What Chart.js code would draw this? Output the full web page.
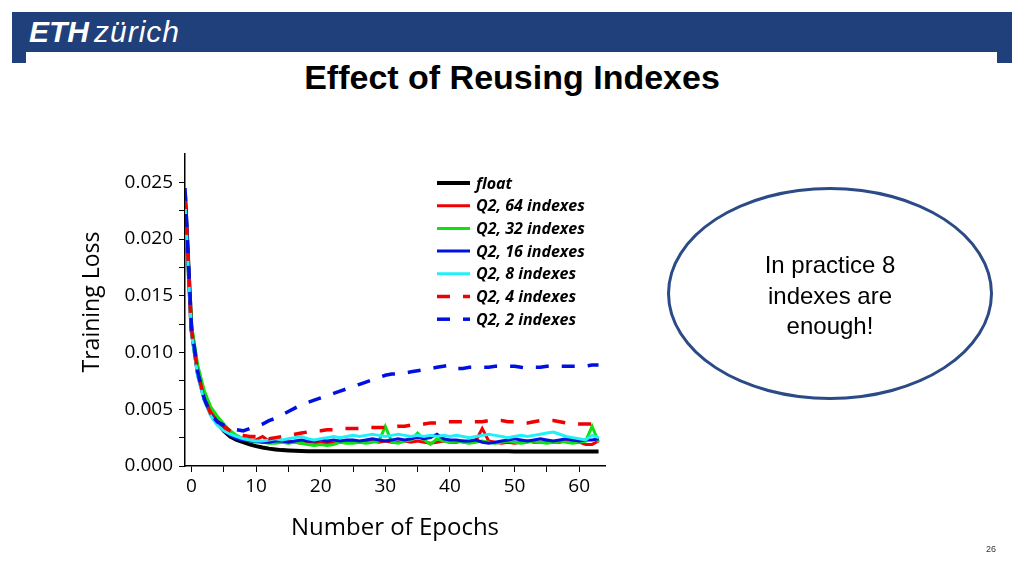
<!DOCTYPE html>
<html>
<head>
<meta charset="utf-8">
<script src="https://cdn.jsdelivr.net/npm/chart.js@4.4.1/dist/chart.umd.min.js"></script>
<style>
  html, body { margin: 0; padding: 0; background: #fff; }
  #page { position: relative; width: 1024px; height: 576px; overflow: hidden; background: #fff; }
  .bar { position: absolute; background: #1f407a; }
  #logo { position: absolute; left: 29px; top: 13px; height: 38px; color: #fff; font-family: "Liberation Sans", Arial, sans-serif; line-height: 38px; white-space: nowrap; }
  #logo .eth { font-weight: bold; font-style: italic; font-size: 30px; letter-spacing: 0px; }
  #logo .zh { font-style: italic; font-weight: normal; font-size: 30px; letter-spacing: 1px; margin-left: 5px; }
  #title { position: absolute; left: 0; width: 1024px; top: 57px; text-align: center; font-family: "Liberation Sans", Arial, sans-serif; font-weight: bold; font-size: 34px; line-height: 40px; color: #000; }
  #chart { position: absolute; left: 0; top: 0; }
  #bubble { position: absolute; left: 667px; top: 187px; width: 320px; height: 207px; border: 3px solid #2b4a86; border-radius: 50%; }
  #bubbleText { position: absolute; left: 667px; top: 250px; width: 326px; text-align: center; font-family: "Liberation Sans", Arial, sans-serif; font-size: 24px; line-height: 30.5px; color: #000; }
  #pnum { position: absolute; left: 980px; top: 544px; width: 22px; text-align: center; font-family: "Liberation Sans", Arial, sans-serif; font-size: 9px; color: #333; }
</style>
</head>
<body>
<div id="page">
  <div class="bar" style="left:12px;top:12px;width:1000px;height:40px;"></div>
  <div class="bar" style="left:12px;top:52px;width:14px;height:11px;"></div>
  <div class="bar" style="left:997px;top:52px;width:15px;height:11px;"></div>
  <div id="logo"><span class="eth">ETH</span><span class="zh">zürich</span></div>
  <div id="title">Effect of Reusing Indexes</div>
  <canvas id="chart" width="1024" height="576"></canvas>
  <div id="bubble"></div>
  <div id="bubbleText">In practice 8<br>indexes are<br>enough!</div>
  <div id="pnum">26</div>
</div>
<script>
// ---------------- data ----------------
const epochs = [-1,0,1,2,3,4,5,6,7,8,9,10,11,12,13,14,15,16,17,18,19,20,21,22,23,24,25,26,27,28,29,30,31,32,33,34,35,36,37,38,39,40,41,42,43,44,45,46,47,48,49,50,51,52,53,54,55,56,57,58,59,60,61,62,63];

const seriesNames = ["float", "Q2, 64 indexes", "Q2, 32 indexes", "Q2, 16 indexes", "Q2, 8 indexes", "Q2, 4 indexes", "Q2, 2 indexes"];

const yAxisTitle = "Training Loss";
const xAxisTitle = "Number of Epochs";

const lossFloat = [0.0240,0.0120,0.0081,0.0060,0.0047,0.0038,0.0031,0.0026,0.0023,0.0021,0.0019,0.00175,0.00163,0.00153,0.00146,0.0014,0.00137,0.00134,0.00132,0.00131,0.0013,0.0013,0.0013,0.0013,0.0013,0.0013,0.0013,0.0013,0.0013,0.0013,0.0013,0.0013,0.0013,0.0013,0.0013,0.0013,0.0013,0.0013,0.0013,0.0013,0.0013,0.0013,0.0013,0.0013,0.0013,0.0013,0.0013,0.0013,0.0013,0.0013,0.0013,0.00128,0.00128,0.00128,0.00128,0.00128,0.00128,0.00127,0.00127,0.00127,0.00127,0.00127,0.00127,0.00127,0.00127];

const lossQ64 = [0.0236,0.0121,0.0083,0.0061,0.0048,0.0040,0.0034,0.0029,0.0026,0.0024,0.0023,0.0023,0.0026,0.0022,0.0021,0.0021,0.0022,0.0021,0.0020,0.0021,0.0021,0.0020,0.0021,0.0020,0.0021,0.0021,0.0022,0.0021,0.0021,0.0022,0.0021,0.0022,0.0021,0.0021,0.0022,0.0021,0.0022,0.0021,0.0020,0.0021,0.0022,0.0021,0.0021,0.0022,0.0021,0.0022,0.0033,0.0022,0.0021,0.0020,0.0021,0.0020,0.0021,0.0022,0.0021,0.0021,0.0022,0.0021,0.0021,0.0022,0.0021,0.0021,0.0019,0.0019,0.0022];

const lossQ32 = [0.0233,0.0125,0.0088,0.0066,0.0052,0.0044,0.0037,0.0031,0.0027,0.0024,0.0022,0.0021,0.0021,0.0020,0.0020,0.0021,0.0020,0.0021,0.0020,0.0019,0.0018,0.0019,0.0018,0.0019,0.0021,0.0020,0.0020,0.0021,0.0020,0.0021,0.0022,0.0035,0.0021,0.0020,0.0022,0.0023,0.0029,0.0023,0.0019,0.0024,0.0022,0.0021,0.0022,0.0021,0.0020,0.0021,0.0022,0.0021,0.0020,0.0021,0.0022,0.0021,0.0020,0.0021,0.0022,0.0021,0.0020,0.0021,0.0022,0.0021,0.0020,0.0021,0.0022,0.0035,0.0021];

const lossQ16 = [0.0240,0.0119,0.0080,0.0058,0.0045,0.0037,0.0031,0.0027,0.0024,0.0023,0.0022,0.0022,0.0021,0.0021,0.0022,0.0022,0.0021,0.0022,0.0023,0.0022,0.0022,0.0023,0.0022,0.0023,0.0022,0.0023,0.0023,0.0022,0.0023,0.0024,0.0023,0.0022,0.0023,0.0024,0.0023,0.0024,0.0025,0.0024,0.0025,0.0028,0.0024,0.0023,0.0023,0.0022,0.0022,0.0023,0.0021,0.0020,0.0021,0.0022,0.0023,0.0024,0.0023,0.0022,0.0023,0.0024,0.0023,0.0022,0.0023,0.0024,0.0023,0.0022,0.0023,0.0023,0.0024];

const lossQ8 = [0.0233,0.0117,0.0078,0.0057,0.0044,0.0036,0.0031,0.0028,0.0026,0.0024,0.0023,0.0022,0.0022,0.0023,0.0024,0.0023,0.0024,0.0025,0.0026,0.0024,0.0023,0.0024,0.0025,0.0026,0.0025,0.0026,0.0027,0.0026,0.0027,0.0028,0.0027,0.0026,0.0027,0.0028,0.0027,0.0026,0.0027,0.0026,0.0027,0.0026,0.0027,0.0026,0.0027,0.0026,0.0025,0.0026,0.0027,0.0028,0.0027,0.0026,0.0025,0.0026,0.0027,0.0026,0.0027,0.0028,0.0029,0.0030,0.0028,0.0026,0.0025,0.0024,0.0023,0.0027,0.0025];

const lossQ4 = [0.0238,0.0120,0.0082,0.0059,0.0046,0.0039,0.0035,0.0031,0.0028,0.0027,0.0026,0.0026,0.0025,0.0024,0.0025,0.0026,0.0027,0.0028,0.0029,0.0030,0.0031,0.0031,0.0032,0.0032,0.0033,0.0033,0.0033,0.0033,0.0034,0.0034,0.0034,0.0034,0.0034,0.0035,0.0035,0.0036,0.0036,0.0037,0.0038,0.0038,0.0039,0.0039,0.0039,0.0039,0.0039,0.0039,0.0039,0.0040,0.0040,0.0040,0.0039,0.0039,0.0038,0.0038,0.0039,0.0040,0.0040,0.0040,0.0039,0.0038,0.0037,0.0037,0.0037,0.0037,0.0037];

const lossQ2 = [0.0245,0.0122,0.0082,0.0059,0.0046,0.0039,0.0036,0.0034,0.0032,0.0031,0.0033,0.0035,0.0037,0.0040,0.0042,0.0045,0.0048,0.0051,0.0054,0.0056,0.0058,0.0060,0.0062,0.0064,0.0066,0.0068,0.0070,0.0072,0.0074,0.0076,0.0078,0.0080,0.0081,0.0081,0.0082,0.0083,0.0084,0.0085,0.0086,0.0087,0.0088,0.0089,0.0086,0.0086,0.0087,0.0087,0.0087,0.0087,0.0088,0.0088,0.0088,0.0088,0.0087,0.0086,0.0087,0.0087,0.0088,0.0088,0.0088,0.0088,0.0088,0.0088,0.0088,0.0089,0.0089];

const xTickValues = [0,5,10,15,20,25,30,35,40,45,50,55,60];
const yTickValues = [0,0.0025,0.005,0.0075,0.01,0.0125,0.015,0.0175,0.02,0.0225,0.025];

// ---------------- styles ----------------
const seriesValues = [lossFloat, lossQ64, lossQ32, lossQ16, lossQ8, lossQ4, lossQ2];
const seriesColors = ['#000000', '#f00000', '#10e010', '#0010e0', '#20f0f8', '#f00000', '#0010e0'];
const seriesWidths = [4, 3, 3, 3, 3, 3.5, 3.5];
const seriesDash = [[], [], [], [], [], [13, 13], [13, 13]];

const datasets = seriesNames.map((name, i) => ({
  label: name,
  data: epochs.map((e, k) => ({ x: e, y: seriesValues[i][k] })),
  borderColor: seriesColors[i],
  backgroundColor: seriesColors[i],
  borderWidth: seriesWidths[i],
  borderDash: seriesDash[i],
  pointRadius: 0,
  tension: 0,
  fill: false,
  order: seriesNames.length - i
}));

const legendPlugin = {
  id: 'customLegend',
  afterDraw(chart) {
    const ctx = chart.ctx;
    const ca = chart.chartArea;
    const x0 = ca.left + 252;
    const y0 = ca.top + 29;
    const rowH = 22.7;
    ctx.save();
    chart.data.datasets.forEach((ds, i) => {
      const y = y0 + i * rowH;
      ctx.beginPath();
      ctx.setLineDash(ds.borderDash || []);
      ctx.lineWidth = ds.borderWidth;
      ctx.strokeStyle = ds.borderColor;
      ctx.moveTo(x0, y);
      ctx.lineTo(x0 + 33, y);
      ctx.stroke();
      ctx.setLineDash([]);
      ctx.fillStyle = '#000';
      ctx.font = 'italic bold 16px "Open Sans", sans-serif';
      ctx.textBaseline = 'middle';
      ctx.textAlign = 'left';
      ctx.fillText(ds.label, x0 + 39, y + 1);
    });
    // y-axis title (rotated), placed slightly above the chart-area centre as in the original
    const ys = chart.scales.y;
    ctx.save();
    ctx.translate(ys.left + 32, (ca.top + ca.bottom) / 2 - 8);
    ctx.rotate(-Math.PI / 2);
    ctx.font = '23px "Open Sans", sans-serif';
    ctx.fillStyle = '#000';
    ctx.textAlign = 'center';
    ctx.textBaseline = 'middle';
    ctx.fillText(yAxisTitle, 0, 0);
    ctx.restore();
    ctx.restore();
  }
};

new Chart(document.getElementById('chart'), {
  type: 'line',
  data: { datasets },
  plugins: [legendPlugin],
  options: {
    responsive: false,
    devicePixelRatio: 1,
    animation: false,
    events: [],
    layout: { padding: { left: 60, top: 154, right: 419, bottom: 30 } },
    plugins: { legend: { display: false }, tooltip: { enabled: false }, title: { display: false } },
    scales: {
      x: {
        type: 'linear',
        min: -1,
        max: 64,
        afterBuildTicks: (scale) => { scale.ticks = xTickValues.map(v => ({ value: v })); },
        afterFit: (scale) => { scale.height = 80; },
        border: { display: true, color: '#000', width: 1.5 },
        grid: { drawOnChartArea: false, drawTicks: true, tickLength: 6, color: '#000', lineWidth: 1 },
        ticks: {
          padding: 3,
          color: '#000',
          font: { family: '"Open Sans", sans-serif', size: 19 },
          maxRotation: 0,
          autoSkip: false,
          callback: (v) => (v % 10 === 0 ? String(v) : '')
        },
        title: {
          display: true,
          text: xAxisTitle,
          color: '#000',
          font: { family: '"Open Sans", sans-serif', size: 24 },
          padding: { top: 0, bottom: 3 }
        }
      },
      y: {
        type: 'linear',
        min: 0,
        max: 0.0275,
        afterBuildTicks: (scale) => { scale.ticks = yTickValues.map(v => ({ value: v })); },
        afterFit: (scale) => { scale.width = 125; },
        border: { display: true, color: '#000', width: 1.5 },
        grid: { drawOnChartArea: false, drawTicks: true, tickLength: 6, color: '#000', lineWidth: 1 },
        ticks: {
          padding: 6,
          color: '#000',
          font: { family: '"Open Sans", sans-serif', size: 19 },
          autoSkip: false,
          callback: (v) => (Math.round(v * 10000) % 50 === 0 ? v.toFixed(3) : '')
        },
        title: { display: false }
      }
    }
  }
});
</script>
</body>
</html>
